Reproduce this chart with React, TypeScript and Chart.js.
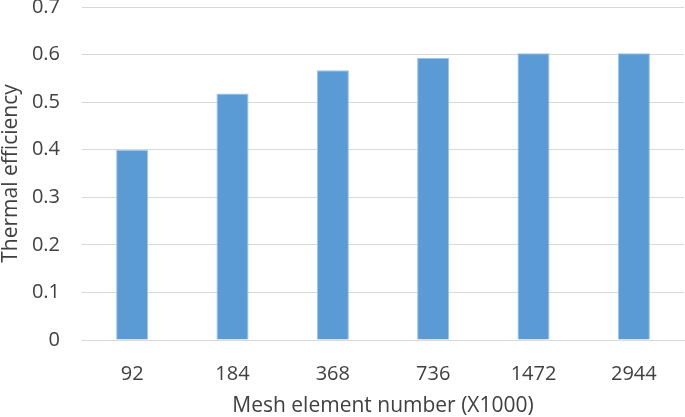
import React, { useEffect, useRef } from "react";
import { Chart, registerables } from "chart.js";

Chart.register(...registerables);

const categories = ["92", "184", "368", "736", "1472", "2944"];
const efficiency = [0.4, 0.518, 0.567, 0.593, 0.603, 0.603];
const xTitle = "Mesh element number (X1000)";
const yTitle = "Thermal efficiency";

export default function App() {
  const ref = useRef<HTMLCanvasElement | null>(null);

  useEffect(() => {
    if (!ref.current) return;
    const family = "'Open Sans', sans-serif";
    const tickFont = { family, size: 20 };
    const titleFont = { family, size: 21, lineHeight: 1.0 };
    const chart = new Chart(ref.current, {
      type: "bar",
      data: {
        labels: categories,
        datasets: [
          {
            data: efficiency,
            backgroundColor: "#5B9BD5",
            borderColor: "#9DC3E6",
            borderWidth: 1,
            barPercentage: 0.8,
            categoryPercentage: 0.4,
          },
        ],
      },
      options: {
        responsive: false,
        animation: false,
        layout: { padding: { top: 7, right: 1, left: 0, bottom: 0 } },
        plugins: { legend: { display: false }, tooltip: { enabled: false } },
        scales: {
          x: {
            grid: { display: false, drawTicks: false },
            border: { display: true, color: "#D9D9D9", width: 1 },
            ticks: { color: "#404040", font: tickFont, padding: 22, maxRotation: 0 },
            title: {
              display: true,
              text: xTitle,
              color: "#404040",
              font: titleFont,
              padding: { top: 0, bottom: 0 },
            },
            afterFit: (s: any) => {
              s.height = 77;
              s.paddingLeft = 0;
              s.paddingRight = 0;
            },
          },
          y: {
            min: 0,
            max: 0.7,
            ticks: {
              stepSize: 0.1,
              color: "#404040",
              font: tickFont,
              padding: 22,
              callback: (v: any) => (Number(v) === 0 ? "0" : Number(v).toFixed(1)),
            },
            grid: { color: "#D9D9D9", lineWidth: 1, drawTicks: false },
            border: { display: false },
            title: {
              display: true,
              text: yTitle,
              color: "#404040",
              font: titleFont,
              padding: { top: 1, bottom: 0 },
            },
            afterFit: (s: any) => {
              s.width = 82;
              s.paddingTop = 0;
              s.paddingBottom = 0;
            },
          },
        },
      },
    });
    return () => chart.destroy();
  }, []);

  return (
    <div style={{ position: "absolute", left: 0, top: 0, width: 685, height: 417, background: "#fff" }}>
      <canvas ref={ref} width={685} height={417} style={{ width: 685, height: 417 }} />
    </div>
  );
}
